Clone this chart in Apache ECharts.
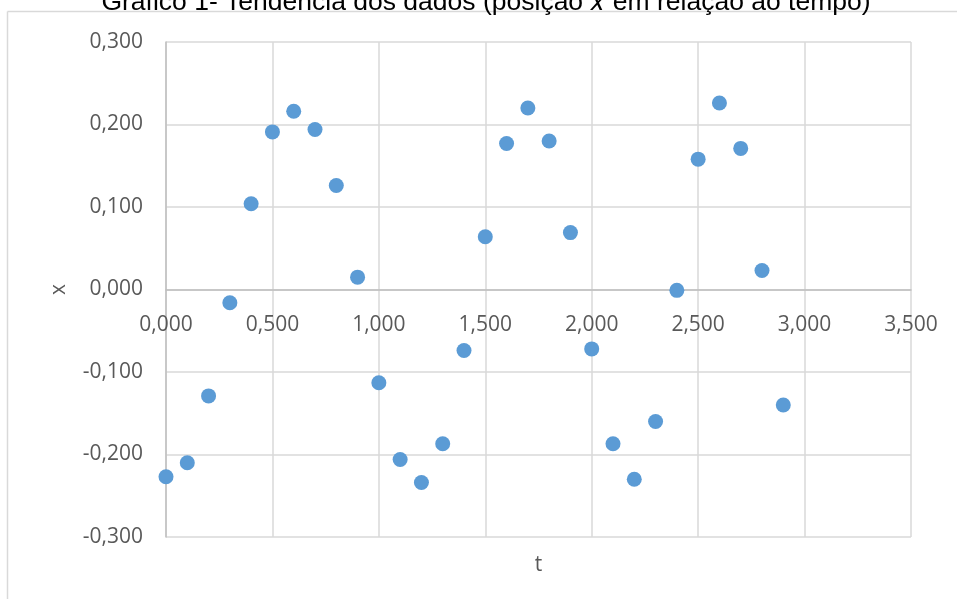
<!DOCTYPE html>
<html>
<head>
<meta charset="utf-8">
<script src="https://cdn.jsdelivr.net/npm/echarts@6/dist/echarts.min.js"></script>
<style>html,body{margin:0;padding:0;background:#fff}#c{width:957px;height:599px}</style>
</head>
<body>
<div id="c"></div>
<script>
var tValues = [0.0,0.1,0.2,0.3,0.4,0.5,0.6,0.7,0.8,0.9,1.0,1.1,1.2,1.3,1.4,1.5,1.6,1.7,1.8,1.9,2.0,2.1,2.2,2.3,2.4,2.5,2.6,2.7,2.8,2.9];
var xValues = [-0.227,-0.210,-0.129,-0.016,0.104,0.191,0.216,0.194,0.126,0.015,-0.113,-0.206,-0.234,-0.187,-0.074,0.064,0.177,0.220,0.180,0.069,-0.072,-0.187,-0.230,-0.160,-0.001,0.158,0.226,0.171,0.023,-0.140];
var titleText = 'Gráfico 1- Tendência dos dados (posição 𝑥 em relação ao tempo)';
var yMin = -0.3, yMax = 0.3;

var data = tValues.map(function(t,i){return [t, xValues[i]];});
function fmt(v){ var s = Math.abs(v) < 1e-9 ? '0.000' : v.toFixed(3); return s.replace('.', ','); }
var lblFont = '"Open Sans", sans-serif';
var gridTop = 42, gridBottom = 62, H = 599;
var plotH = H - gridTop - gridBottom;
var zeroOffset = -plotH * (0 - yMin) / (yMax - yMin);
var chart = echarts.init(document.getElementById('c'));
chart.setOption({
  animation: false,
  graphic: [
    {type:'line', shape:{x1:7.5,y1:11.5,x2:957,y2:11.5}, style:{stroke:'#d9d9d9', lineWidth:1.5}},
    {type:'line', shape:{x1:7.5,y1:11.5,x2:7.5,y2:599}, style:{stroke:'#d9d9d9', lineWidth:1.5}},
    {type:'text', x:486, y:16, style:{text:titleText, font:'26.5px "Liberation Sans", Arial, sans-serif', fill:'#000', textAlign:'center', textVerticalAlign:'bottom'}}
  ],
  grid: {left:166, right:46, top:gridTop, bottom:gridBottom, containLabel:false, outerBoundsMode:'none'},
  xAxis: {
    type:'value', min:0, max:3.5, interval:0.5, position:'bottom', offset:zeroOffset,
    name:'t', nameLocation:'middle', nameGap:265,
    nameTextStyle:{color:'#595959', fontSize:21, fontFamily:lblFont},
    axisLine:{show:true, onZero:false, lineStyle:{color:'#bfbfbf', width:1.5}},
    axisTick:{show:false},
    axisLabel:{formatter:fmt, color:'#595959', fontSize:21, fontFamily:lblFont, margin:25},
    splitLine:{show:true, lineStyle:{color:'#d9d9d9', width:1.5}}
  },
  yAxis: {
    type:'value', min:yMin, max:yMax, interval:0.1,
    name:'x', nameLocation:'middle', nameGap:96, nameRotate:90,
    nameTextStyle:{color:'#595959', fontSize:21, fontFamily:lblFont},
    axisLine:{show:true, onZero:false, lineStyle:{color:'#bfbfbf', width:1.5}},
    axisTick:{show:false},
    axisLabel:{formatter:fmt, color:'#595959', fontSize:21, fontFamily:lblFont, margin:23},
    splitLine:{show:true, lineStyle:{color:'#d9d9d9', width:1.5}}
  },
  series: [{
    type:'scatter', data:data, symbol:'circle', symbolSize:15,
    itemStyle:{color:'#5b9bd5', opacity:1}
  }]
});
</script>
</body>
</html>
